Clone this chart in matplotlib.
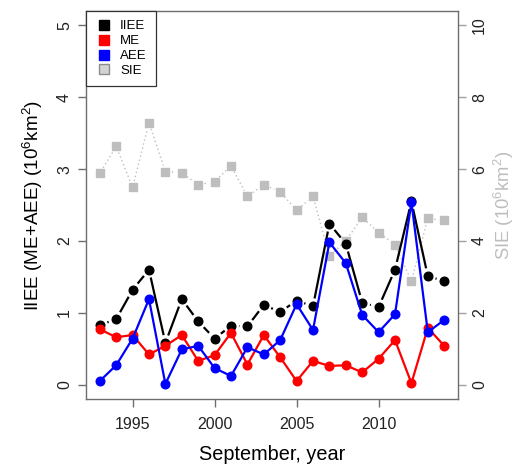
import numpy as np
import matplotlib
matplotlib.use("Agg")
import matplotlib.pyplot as plt
from matplotlib.lines import Line2D

plt.rcParams['font.family'] = ['Liberation Sans', 'DejaVu Sans']
plt.rcParams['mathtext.fontset'] = 'custom'
plt.rcParams['mathtext.rm'] = 'Liberation Sans'
plt.rcParams['mathtext.it'] = 'Liberation Sans:italic'
plt.rcParams['mathtext.bf'] = 'Liberation Sans:bold'

# September ice-edge extents (10^6 km^2)
years = [1993, 1994, 1995, 1996, 1997, 1998, 1999, 2000, 2001, 2002, 2003,
         2004, 2005, 2006, 2007, 2008, 2009, 2010, 2011, 2012, 2013, 2014]
iiee = [0.83, 0.91, 1.32, 1.60, 0.58, 1.19, 0.88, 0.64, 0.82, 0.81, 1.11,
        1.01, 1.17, 1.09, 2.24, 1.96, 1.14, 1.08, 1.60, 2.55, 1.51, 1.44]
me = [0.77, 0.66, 0.69, 0.42, 0.54, 0.69, 0.33, 0.41, 0.72, 0.28, 0.69,
      0.38, 0.05, 0.33, 0.26, 0.27, 0.17, 0.36, 0.62, 0.02, 0.79, 0.54]
aee = [0.05, 0.27, 0.64, 1.19, 0.01, 0.49, 0.54, 0.23, 0.12, 0.52, 0.42,
       0.62, 1.12, 0.76, 1.98, 1.69, 0.97, 0.73, 0.98, 2.54, 0.73, 0.90]
sie = [5.88, 6.63, 5.49, 7.29, 5.93, 5.90, 5.56, 5.65, 6.09, 5.24, 5.56,
       5.37, 4.85, 5.24, 3.58, 4.00, 4.66, 4.23, 3.90, 2.88, 4.63, 4.57]

xticks = [1995, 2000, 2005, 2010]
left_ticks = [0, 1, 2, 3, 4, 5]
right_ticks = [0, 2, 4, 6, 8, 10]
legend_labels = ["IIEE", "ME", "AEE", "SIE"]

GRAY = "#BEBEBE"
FRAME = "#6E6E6E"
TICKTXT = "#222222"

W, H, DPI = 518, 466, 100
fig = plt.figure(figsize=(W / DPI, H / DPI), dpi=DPI)
ax2 = fig.add_axes([86 / W, 1 - 399 / H, (458 - 86) / W, (399 - 11) / H])
ax1 = fig.add_axes(ax2.get_position(), sharex=ax2)
ax1.set_zorder(ax2.get_zorder() + 1)
ax1.patch.set_visible(False)

ax1.set_xlim(1992.16, 2014.84)
ax1.set_ylim(-0.2, 5.2)
ax2.set_ylim(-0.4, 10.4)


def gapped_line(ax, xs, ys, gap_px, **kw):
    """Connect points with segments that stop short of each marker."""
    tr = ax.transData
    inv = tr.inverted()
    pts = tr.transform(np.column_stack([xs, ys]))
    for p0, p1 in zip(pts[:-1], pts[1:]):
        d = p1 - p0
        length = np.hypot(*d)
        if length <= 2 * gap_px:
            continue
        u = d / length
        a = inv.transform(p0 + u * gap_px)
        b = inv.transform(p1 - u * gap_px)
        ax.plot([a[0], b[0]], [a[1], b[1]], solid_capstyle='butt',
                dash_capstyle='butt', **kw)


# SIE on the secondary axis
gapped_line(ax2, years, sie, 6.5, color=GRAY, lw=1.0, ls=(0, (1, 2)))
ax2.plot(years, sie, ls='none', marker='s', ms=5.2, color=GRAY, mec=GRAY)

# IIEE with gaps around the points, then ME and AEE overplotted
gapped_line(ax1, years, iiee, 8.0, color='black', lw=1.6)
ax1.plot(years, iiee, ls='none', marker='o', ms=6.2, color='black')
ax1.plot(years, me, color='#FF0000', lw=1.6, marker='o', ms=6.2)
ax1.plot(years, aee, color='#0000FF', lw=1.6, marker='o', ms=6.2)

# axes styling
for sp in ax1.spines.values():
    sp.set_color(FRAME)
    sp.set_linewidth(1.0)
for sp in ax2.spines.values():
    sp.set_visible(False)

ax1.set_xticks(xticks)
ax1.set_yticks(left_ticks)
ax2.set_yticks(right_ticks)
ax1.tick_params(axis='both', direction='out', length=6, width=1.0,
                color=FRAME, labelcolor=TICKTXT, labelsize=11.5)
ax1.tick_params(axis='x', pad=7)
ax1.tick_params(axis='y', labelrotation=90, pad=4)
ax2.tick_params(axis='x', bottom=False, labelbottom=False)
ax2.tick_params(axis='y', left=False, labelleft=False, right=True,
                labelright=True, direction='out', length=6, width=1.0,
                color="#A0A0A0", labelcolor=TICKTXT, labelsize=11.5,
                labelrotation=90, pad=4)
for lab in ax1.get_yticklabels() + ax2.get_yticklabels():
    lab.set_va('center')

ax1.set_xlabel("September, year", fontsize=14.3, color='black')
ax1.xaxis.set_label_coords(0.5, (399 - 454) / 388)
ax1.xaxis.label.set_va('center')

ax1.set_ylabel("IIEE (ME+AEE) (10$^6$km$^2$)", fontsize=13.6, color='black')
ax1.yaxis.set_label_coords((33 - 86) / 372, 0.5)
ax1.yaxis.label.set_va('center')

ax2.set_ylabel("SIE (10$^6$km$^2$)", fontsize=13.3, color=GRAY, rotation=90)
ax2.yaxis.set_label_position('right')
ax2.yaxis.set_label_coords((504 - 86) / 372, 0.5)
ax2.yaxis.label.set_va('center')

# legend
handles = [
    Line2D([], [], ls='none', marker='s', ms=7.5, color='black'),
    Line2D([], [], ls='none', marker='s', ms=7.5, color='#FF0000'),
    Line2D([], [], ls='none', marker='s', ms=7.5, color='#0000FF'),
    Line2D([], [], ls='none', marker='s', ms=7.5, mfc='#D3D3D3', mec='#8C8C8C'),
]
leg = ax1.legend(handles, legend_labels, loc='upper left', borderaxespad=0,
                 fontsize=9.5, frameon=True, fancybox=False, framealpha=1,
                 edgecolor='#333333', borderpad=0.7, handlelength=1.28,
                 handletextpad=0.6, labelspacing=0.2)
leg.get_frame().set_linewidth(0.9)

fig.savefig("out.png", dpi=DPI)
